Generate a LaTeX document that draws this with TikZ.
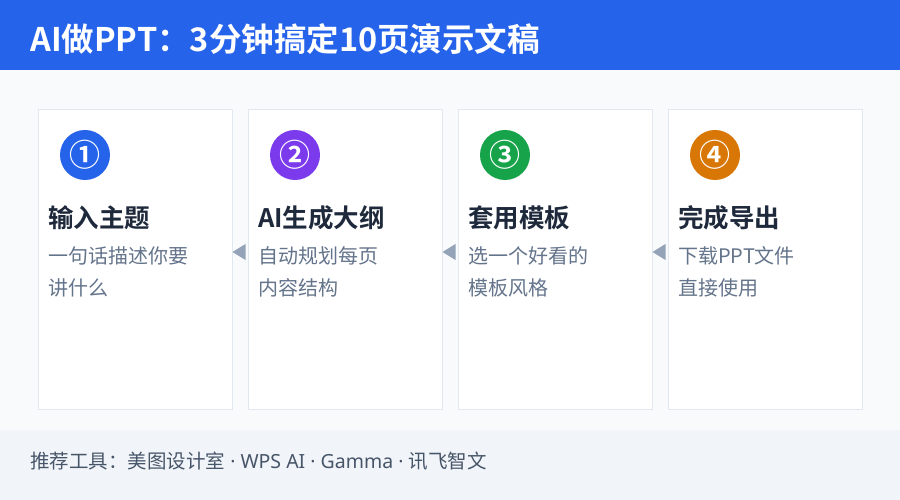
\documentclass[tikz,border=0pt]{standalone}
\usepackage{fontspec}
\setmainfont{Noto Sans CJK SC}[BoldFont={Noto Sans CJK SC Bold}]
\newfontfamily\latinfont{Noto Sans}
\definecolor{pagebg}{HTML}{F8FAFC}
\definecolor{barblue}{HTML}{2563EB}
\definecolor{cardline}{HTML}{E2E8F0}
\definecolor{footbg}{HTML}{F1F5F9}
\definecolor{headtxt}{HTML}{1E293B}
\definecolor{desctxt}{HTML}{64748B}
\definecolor{foottxt}{HTML}{475569}
\definecolor{tipgray}{HTML}{94A3B8}
\definecolor{stepA}{HTML}{2563EB}
\definecolor{stepB}{HTML}{7C3AED}
\definecolor{stepC}{HTML}{16A34A}
\definecolor{stepD}{HTML}{D97706}
\newcommand{\sepdot}{{\latinfont\ ·\ }}
\tikzset{
  card/.style={draw=cardline, line width=1pt, fill=white, minimum width=194pt, minimum height=300pt, inner sep=0pt},
  badge/.style={circle, minimum size=50pt, inner sep=0pt, text=white, font=\bfseries\fontsize{31}{31}\selectfont},
  steptitle/.style={anchor=base west, inner sep=0pt, text=headtxt, font=\bfseries\fontsize{25.5}{25.5}\selectfont},
  stepdesc/.style={anchor=base west, inner sep=0pt, align=left, text=desctxt, font=\fontsize{20}{32}\selectfont},
  flowtip/.style={fill=tipgray}
}
\begin{document}
\begin{tikzpicture}[x=1pt, y=1pt]
\useasboundingbox (0,0) rectangle (900,500);
\fill[pagebg] (0,0) rectangle (900,500);
\fill[barblue] (0,430) rectangle (900,500);
\fill[footbg] (0,0) rectangle (900,70);
\node[anchor=base west, inner sep=0pt, text=white, font=\bfseries\fontsize{32.5}{32.5}\selectfont] (title) at (30,448) {AI做PPT：3分钟搞定10页演示文稿};
\foreach \i/\col/\num/\head/\descA/\descB in {
  1/stepA/①/输入主题/一句话描述你要/讲什么,
  2/stepB/②/AI生成大纲/自动规划每页/内容结构,
  3/stepC/③/套用模板/选一个好看的/模板风格,
  4/stepD/④/完成导出/下载PPT文件/直接使用}{
  \node[card] (c\i) at ({135+210*(\i-1)},240) {};
  \node[badge, fill=\col] (b\i) at ({85+210*(\i-1)},345) {\num};
  \node[steptitle] (h\i) at ({48+210*(\i-1)},272) {\head};
  \node[stepdesc] (d\i) at ({48+210*(\i-1)},204.5) {\descA\\\descB};
}
\foreach \i/\j in {1/2, 2/3, 3/4}
  \fill[flowtip] ([yshift=8pt]c\i.east) -- ([xshift=-2pt,yshift=16pt]c\j.west) -- ([xshift=-2pt]c\j.west) -- cycle;
\node[anchor=base west, inner sep=0pt, text=foottxt, font=\fontsize{19.5}{19.5}\selectfont] (tools) at (30,31) {推荐工具：美图设计室\sepdot{\latinfont WPS AI}\sepdot{\latinfont Gamma}\sepdot 讯飞智文};
\end{tikzpicture}
\end{document}
